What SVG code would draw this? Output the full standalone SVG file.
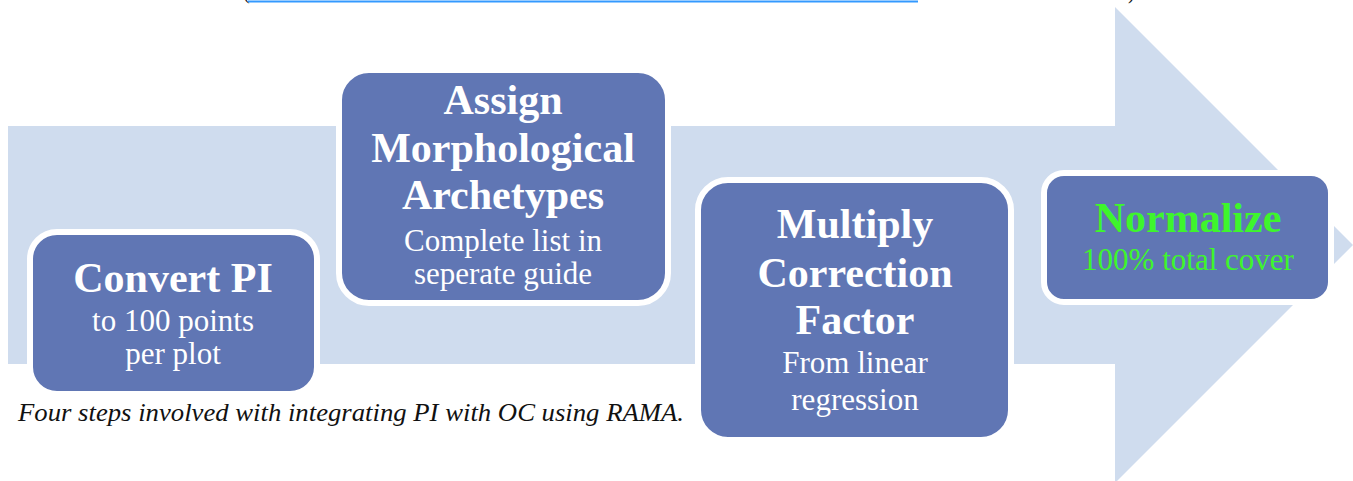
<svg xmlns="http://www.w3.org/2000/svg" width="1353" height="481" viewBox="0 0 1353 481">
<style>
.box{fill:#6076b4;stroke:#ffffff;stroke-width:6}
.t{font-family:"Liberation Serif","DejaVu Serif",serif;font-weight:bold;font-size:42px;fill:#ffffff;text-anchor:middle}
.s{font-family:"Liberation Serif","DejaVu Serif",serif;font-size:31px;fill:#ffffff;text-anchor:middle}
.g{fill:#3ef52c}
.cap{font-family:"Liberation Serif","DejaVu Serif",serif;font-style:italic;font-size:25px;fill:#111111}
</style>
<rect width="1353" height="481" fill="#ffffff"/>
<g id="header">
<text x="243" y="-1" font-family="Liberation Serif, serif" font-size="20" fill="#111">(</text>
<line x1="248" y1="1.5" x2="918" y2="1.5" stroke="#3399ff" stroke-width="2"/>
<text x="1128" y="-1" font-family="Liberation Serif, serif" font-size="20" fill="#111">)</text>
</g>
<g id="connectors">
<polygon id="bigArrow" points="8,126 1115,126 1115,7 1353,245 1115,483 1115,364 8,364" fill="#cfdcee"/>
</g>
<g id="step1">
<rect class="box" x="30" y="232" width="287" height="162" rx="27"/>
<text class="t" x="173" y="292">Convert PI</text>
<text class="s" x="173" y="331">to 100 points</text>
<text class="s" x="173" y="364">per plot</text>
</g>
<g id="step2">
<rect class="box" x="339" y="70" width="329" height="233" rx="30"/>
<text class="t" x="503" y="114">Assign</text>
<text class="t" x="503" y="162">Morphological</text>
<text class="t" x="503" y="209">Archetypes</text>
<text class="s" x="503" y="251">Complete list in</text>
<text class="s" x="503" y="284">seperate guide</text>
</g>
<g id="step3">
<rect class="box" x="698" y="180" width="313" height="260" rx="30"/>
<text class="t" x="855" y="238">Multiply</text>
<text class="t" x="855" y="287">Correction</text>
<text class="t" x="855" y="334">Factor</text>
<text class="s" x="855" y="373">From linear</text>
<text class="s" x="855" y="410">regression</text>
</g>
<g id="step4">
<rect class="box" x="1044" y="173" width="287" height="129" rx="20"/>
<text class="t g" x="1188" y="232">Normalize</text>
<text class="s g" x="1188" y="270">100% total cover</text>
</g>
<g id="caption">
<text class="cap" x="18" y="421" textLength="666" lengthAdjust="spacingAndGlyphs">Four steps involved with integrating PI with OC using RAMA.</text>
</g>
</svg>
